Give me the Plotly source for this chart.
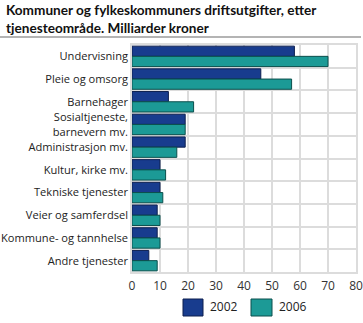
import plotly.graph_objects as go

categories = ["Undervisning", "Pleie og omsorg", "Barnehager",
              "Sosialtjeneste,<br>barnevern mv.", "Administrasjon mv.",
              "Kultur, kirke mv.", "Tekniske tjenester", "Veier og samferdsel",
              "Kommune- og tannhelse", "Andre tjenester"]
v2002 = [58, 46, 13, 19, 19, 10, 10, 9, 9, 6]
v2006 = [70, 57, 22, 19, 16, 12, 11, 10, 10, 9]
series_names = ["2002", "2006"]
colors = ["#183c8e", "#1c9a96"]
edge_colors = ["#0d1f4f", "#0b4f4c"]
x_ticks = [0, 10, 20, 30, 40, 50, 60, 70, 80]
title_text = "Kommuner og fylkeskommuners driftsutgifter, etter<br>tjenesteområde. Milliarder kroner"

W, H = 363, 323
L, R, T, B = 132, 7, 45, 51
PW, PH = W - L - R, H - T - B
font = "Open Sans, Liberation Sans, sans-serif"
idx = list(range(len(categories)))
GRID = "#dcdcdc"


def px(x):
    return (x - L) / PW


def py(y):
    return (H - B - y) / PH


fig = go.Figure()
for name, vals, c, ec in zip(series_names, [v2002, v2006], colors, edge_colors):
    fig.add_trace(go.Bar(y=idx, x=vals, orientation="h", name=name,
                         marker=dict(color=c, line=dict(color=ec, width=1))))

yrange = [len(categories) - 0.5, -0.5]
fig.update_layout(
    width=W, height=H,
    margin=dict(l=L, r=R, t=T, b=B),
    paper_bgcolor="white", plot_bgcolor="white",
    barmode="group", bargap=0.1, bargroupgap=0,
    font=dict(family=font, size=11, color="#222"),
    showlegend=False,
    xaxis=dict(range=[0, 80], tickvals=x_ticks, showgrid=True, gridcolor=GRID,
               gridwidth=2, zeroline=False, showline=True, mirror=True,
               linecolor=GRID, linewidth=2, ticks="",
               tickfont=dict(size=12, color="#333"), automargin=False,
               ticklabelstandoff=2),
    # grid axis: separators between categories
    yaxis=dict(range=yrange, tickvals=[i + 0.5 for i in idx[:-1]], showticklabels=False,
               showgrid=True, gridcolor=GRID, gridwidth=2, zeroline=False,
               showline=True, mirror=True, linecolor=GRID, linewidth=2,
               ticks="", automargin=False),
    # label axis
    yaxis2=dict(range=yrange, overlaying="y", side="left", tickvals=idx,
                ticktext=categories, showgrid=False, zeroline=False, showline=False,
                ticks="", tickfont=dict(size=11.1, color="#222"),
                automargin=False, ticklabelstandoff=3),
)
# invisible trace to activate the label axis
fig.add_trace(go.Bar(y=idx, x=[0] * len(idx), orientation="h", yaxis="y2",
                     showlegend=False, hoverinfo="skip", marker=dict(opacity=0)))

# title
fig.add_annotation(text="<b>" + title_text + "</b>",
                   xref="paper", yref="paper", x=px(4), y=py(0),
                   xanchor="left", yanchor="top", align="left", showarrow=False,
                   font=dict(size=13.6, color="#111", family="Lato, Open Sans, sans-serif"))
# rule under title (thin gray band)
fig.add_annotation(text=" ", xref="paper", yref="paper", x=px(0), y=py(36.5),
                   xanchor="left", yanchor="middle", showarrow=False,
                   width=W - 2, height=1.5, borderpad=0, borderwidth=0,
                   bgcolor="#b4b4b4", font=dict(size=1))
# legend (drawn manually to match large swatches)
leg = [(183, 203, 208), (251, 272, 277)]
for (x0, x1, tx), name, c, ec in zip(leg, series_names, colors, edge_colors):
    fig.add_shape(type="rect", xref="paper", yref="paper",
                  x0=px(x0), x1=px(x1), y0=py(316), y1=py(299),
                  fillcolor=c, line=dict(color=ec, width=1))
    fig.add_annotation(text=name, xref="paper", yref="paper", x=px(tx), y=py(306),
                       xanchor="left", yanchor="middle", showarrow=False,
                       font=dict(size=12, color="#222"))
fig.write_html("out.html")
